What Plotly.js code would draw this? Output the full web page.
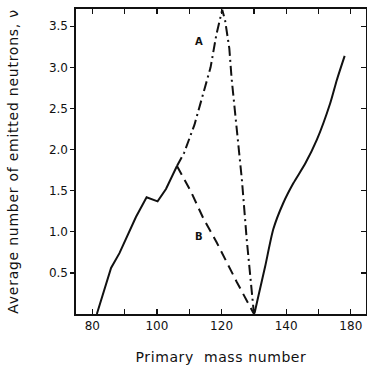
<!DOCTYPE html>
<html>
<head>
<meta charset="utf-8">
<script src="https://cdn.plot.ly/plotly-3.0.1.min.js"></script>
<style>
html,body{margin:0;padding:0;background:#fff;}
#chart{width:367px;height:366px;}
#chart .ytitle{letter-spacing:0.75px;}
#chart .xtitle{letter-spacing:0.6px;}
</style>
</head>
<body>
<div id="chart"></div>
<script>
// Solid curve, left branch (mass number vs average neutrons)
const solidLeftX = [81.4, 85.8, 88.4, 93.5, 96.8, 100.2, 102.8, 106.2];
const solidLeftY = [0.00, 0.56, 0.74, 1.18, 1.42, 1.37, 1.52, 1.80];
// Solid curve, right branch
const solidRightX = [130.2, 131.4, 133.5, 136.0, 139.1, 142.2, 145.9, 149.5, 153.6, 155.7, 158.1];
const solidRightY = [0.01, 0.22, 0.58, 1.03, 1.35, 1.59, 1.83, 2.12, 2.56, 2.85, 3.14];
// Curve A (dash-dot)
const curveAX = [106.2, 108.4, 111.6, 114.2, 116.6, 118.4, 120.2, 121.1, 122.4, 123.1, 124.2, 125.2, 126.3, 127.8, 128.8, 130.0];
const curveAY = [1.80, 1.96, 2.30, 2.65, 3.00, 3.40, 3.70, 3.57, 3.23, 2.87, 2.44, 2.00, 1.63, 0.90, 0.50, 0.01];
// Curve B (dashed)
const curveBX = [106.2, 110.5, 114.4, 118.5, 124.7, 129.9];
const curveBY = [1.80, 1.49, 1.16, 0.87, 0.39, 0.01];
// Ticks
const xTickVals = [80, 90, 100, 110, 120, 130, 140, 150, 160];
const xTickText = ["80", "", "100", "", "120", "", "140", "", "180"];
const yTickVals = [0.5, 1.0, 1.5, 2.0, 2.5, 3.0, 3.5];
const yTickText = ["0.5", "1.0", "1.5", "2.0", "2.5", "3.0", "3.5"];
// Curve labels
const labelText = ["A", "B"];
const labelX = [113.1, 113.1];
const labelY = [3.31, 0.94];

const ink = "#111";
const fnt = "DejaVu Sans, sans-serif";

const traces = [
  {x: solidLeftX, y: solidLeftY, mode: "lines", line: {color: ink, width: 2}, hoverinfo: "skip"},
  {x: solidRightX, y: solidRightY, mode: "lines", line: {color: ink, width: 2, shape: "spline", smoothing: 0.6}, hoverinfo: "skip"},
  {x: curveAX, y: curveAY, mode: "lines", line: {color: ink, width: 2, dash: "10px,4px,2px,4px"}, hoverinfo: "skip"},
  {x: curveBX, y: curveBY, mode: "lines", line: {color: ink, width: 2, dash: "10px,6px"}, hoverinfo: "skip"},
  {x: [80], y: [0.5], yaxis: "y2", mode: "markers", marker: {opacity: 0}, hoverinfo: "skip"}
];

const layout = {
  width: 367, height: 366,
  margin: {l: 76, r: 1, t: 9, b: 52},
  paper_bgcolor: "#fff", plot_bgcolor: "#fff",
  showlegend: false,
  font: {family: fnt, color: ink, size: 12},
  xaxis: {
    range: [74.95, 164.7],
    tickmode: "array", tickvals: xTickVals, ticktext: xTickText,
    ticks: "inside", ticklen: 5, tickwidth: 1.3, tickcolor: ink,
    showline: true, linecolor: ink, linewidth: 1.6, mirror: "ticks",
    showgrid: false, zeroline: false,
    tickfont: {size: 12, family: fnt, color: ink},
    title: {text: "Primary\u00a0 mass number", font: {size: 14, family: fnt, color: ink}, standoff: 20}
  },
  yaxis: {
    range: [0, 3.71],
    tickmode: "array", tickvals: yTickVals, ticktext: yTickText,
    ticks: "outside", ticklen: 4, tickwidth: 1.3, tickcolor: ink,
    showline: true, linecolor: ink, linewidth: 1.6, mirror: true,
    showgrid: false, zeroline: false,
    tickfont: {size: 12, family: fnt, color: ink},
    title: {text: "Average number of emitted neutrons, \u03bd", font: {size: 14, family: fnt, color: ink}, standoff: 27}
  },
  yaxis2: {
    range: [0, 3.71], overlaying: "y", side: "right",
    tickmode: "array", tickvals: yTickVals,
    ticks: "inside", ticklen: 5, tickwidth: 1.3, tickcolor: ink,
    showticklabels: false, showgrid: false, zeroline: false, showline: false
  },
  annotations: labelText.map((t, i) => ({
    x: labelX[i], y: labelY[i], xref: "x", yref: "y", text: "<b>" + t + "</b>",
    showarrow: false, font: {size: 10, family: fnt, color: ink}
  }))
};

Plotly.newPlot("chart", traces, layout, {staticPlot: true, displayModeBar: false});
</script>
</body>
</html>
